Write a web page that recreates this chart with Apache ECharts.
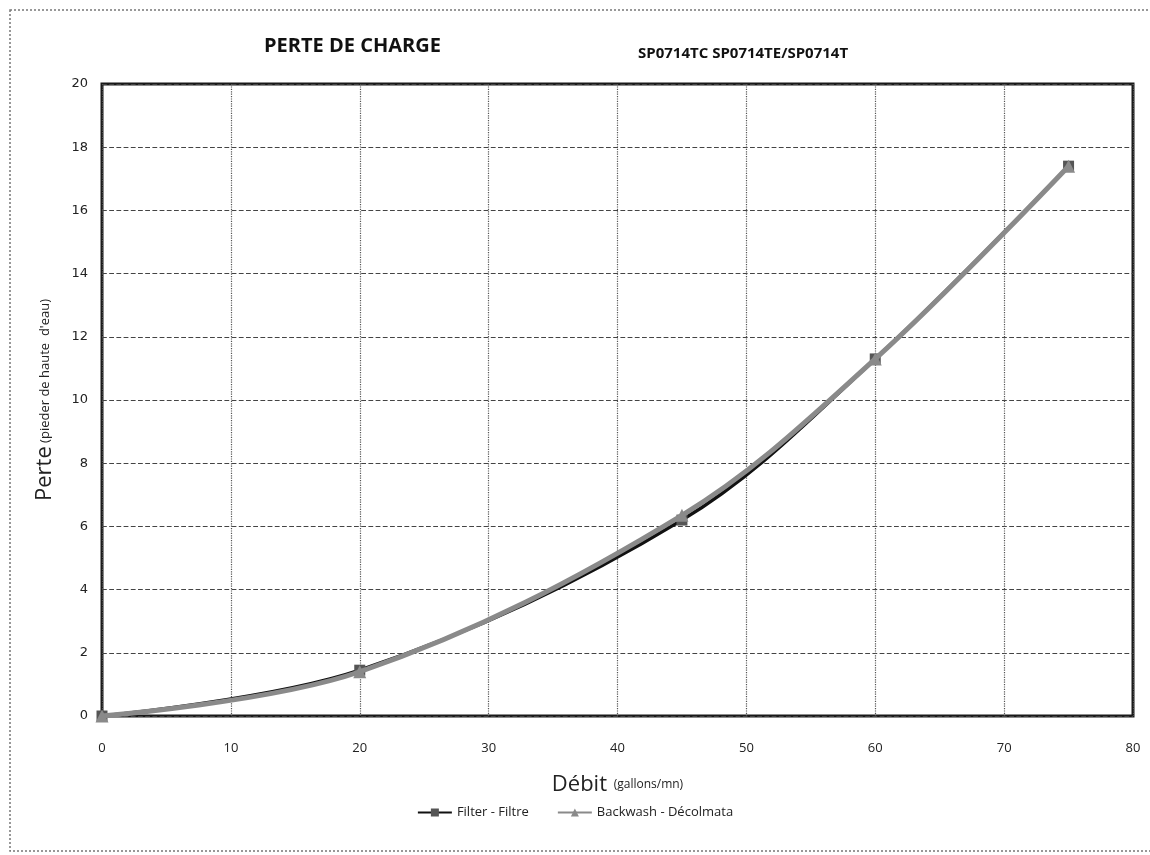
<!DOCTYPE html>
<html>
<head>
<meta charset="utf-8">
<script src="https://cdn.jsdelivr.net/npm/echarts@6/dist/echarts.min.js"></script>
<style>html,body{margin:0;padding:0;background:#fff;}#c{width:1150px;height:855px;}</style>
</head>
<body>
<div id="c"></div>
<script>
const flowX = [0, 20, 45, 60, 75];
const filterY = [0, 1.45, 6.2, 11.3, 17.4];
const backwashY = [0, 1.4, 6.35, 11.3, 17.4];
const seriesNames = ['Filter - Filtre', 'Backwash - Décolmata'];
const titleText = 'PERTE DE CHARGE';
const subtitleText = 'SP0714TC SP0714TE/SP0714T';

const pairs = (xs, ys) => xs.map((x, i) => [x, ys[i]]);
const chart = echarts.init(document.getElementById('c'));
const font = '"Open Sans", "DejaVu Sans", sans-serif';
chart.setOption({
  animation: false,
  backgroundColor: '#fff',
  graphic: [
    { type: 'rect', shape: { x: 10, y: 10, width: 1150, height: 841 },
      style: { fill: 'none', stroke: '#777', lineWidth: 1.5, lineDash: [2, 2] }, silent: true },
    { type: 'text', left: 264, top: 36,
      style: { text: titleText, font: 'bold 20px "Open Sans", sans-serif', fill: '#111' } },
    { type: 'text', left: 638, top: 46,
      style: { text: subtitleText, font: 'bold 15px "Open Sans", sans-serif', fill: '#111' } }
  ],
  grid: { left: 102, right: 17, top: 84, bottom: 139, show: true, borderColor: '#1a1a1a', borderWidth: 3 },
  legend: {
    bottom: 31, left: 'center', itemGap: 28, itemWidth: 34, itemHeight: 10,
    textStyle: { fontFamily: font, fontSize: 13, color: '#222' },
    data: seriesNames
  },
  xAxis: {
    type: 'value', min: 0, max: 80, interval: 10,
    name: '{a|Débit}  {b|(gallons/mn)}', nameLocation: 'middle', nameGap: 58,
    nameTextStyle: { rich: {
      a: { fontFamily: font, fontSize: 22, color: '#222' },
      b: { fontFamily: font, fontSize: 12, color: '#222' } } },
    axisLine: { show: false },
    axisTick: { show: false },
    axisLabel: { fontFamily: font, fontSize: 13, color: '#222', margin: 26 },
    splitLine: { show: true, lineStyle: { color: '#555', type: 'dotted', width: 1.2 } }
  },
  yAxis: {
    type: 'value', min: 0, max: 20, interval: 2,
    name: '{a|Perte} {b|(pieder de haute  d\'eau)}', nameLocation: 'middle', nameGap: 46,
    nameTextStyle: { rich: {
      a: { fontFamily: font, fontSize: 22, color: '#222' },
      b: { fontFamily: font, fontSize: 13, color: '#222' } } },
    axisLine: { show: false },
    axisTick: { show: false },
    axisLabel: { fontFamily: '"DejaVu Sans", sans-serif', fontSize: 13, color: '#222', margin: 14 },
    splitLine: { show: true, lineStyle: { color: '#444', type: 'dashed', width: 1.2 } }
  },
  series: [
    { name: seriesNames[0], type: 'line', smooth: 0.35, data: pairs(flowX, filterY),
      symbol: 'rect', symbolSize: 11,
      lineStyle: { color: '#111', width: 3.5 }, itemStyle: { color: '#555' }, z: 2 },
    { name: seriesNames[1], type: 'line', smooth: 0.35, data: pairs(flowX, backwashY),
      symbol: 'triangle', symbolSize: 13,
      lineStyle: { color: '#8a8a8a', width: 5 }, itemStyle: { color: '#8a8a8a' }, z: 3 }
  ]
});
</script>
</body>
</html>
